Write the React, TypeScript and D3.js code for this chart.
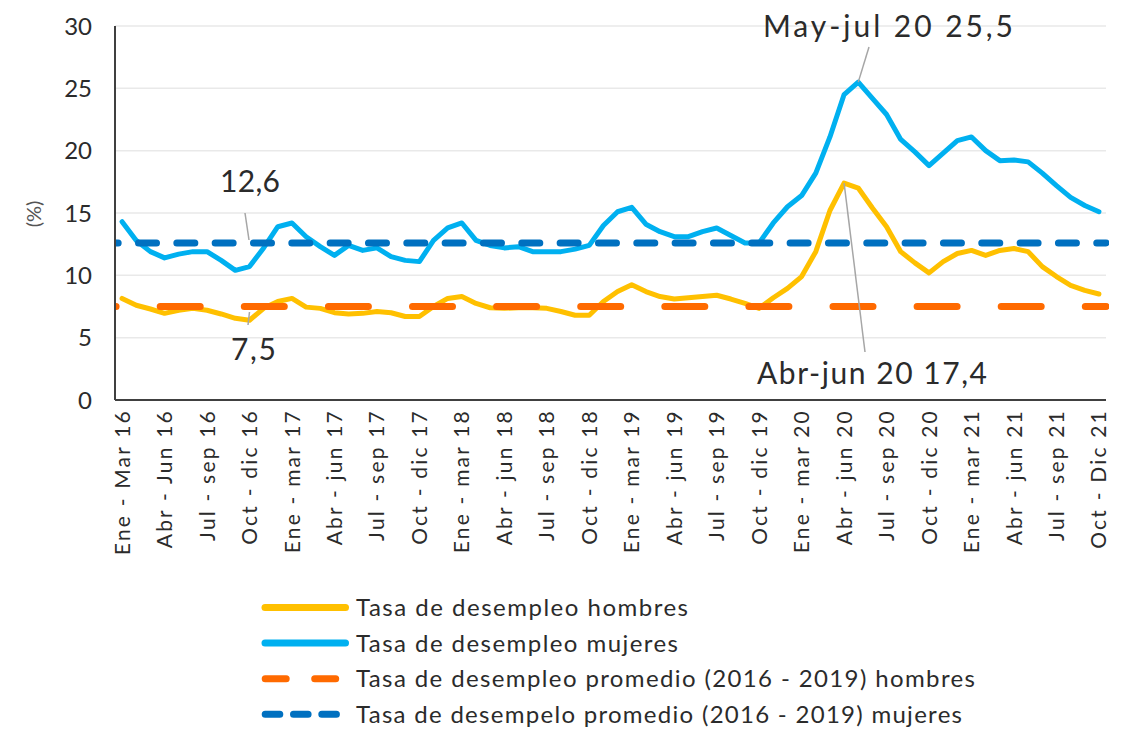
import React from "react";
import * as d3 from "d3";

const MONTHS = ["Ene", "Feb", "Mar", "Abr", "May", "Jun", "Jul", "Ago", "Sep", "Oct", "Nov", "Dic"];
// 70 rolling quarters: Ene-Mar 16 ... Oct-Dic 21
const categories: string[] = d3.range(70).map((i) => {
  const s = i % 12;
  const e = (i + 2) % 12;
  const yr = 16 + Math.floor((i + 2) / 12);
  return `${MONTHS[s]}-${MONTHS[e]} ${yr}`;
});

const tickLabels = [
  "Ene - Mar 16", "Abr - Jun 16", "Jul - sep 16", "Oct - dic 16",
  "Ene - mar 17", "Abr - jun 17", "Jul - sep 17", "Oct - dic 17",
  "Ene - mar 18", "Abr - jun 18", "Jul - sep 18", "Oct - dic 18",
  "Ene - mar 19", "Abr - jun 19", "Jul - sep 19", "Oct - dic 19",
  "Ene - mar 20", "Abr - jun 20", "Jul - sep 20", "Oct - dic 20",
  "Ene - mar 21", "Abr - jun 21", "Jul - sep 21", "Oct - Dic 21",
];

const hombres = [
  8.15, 7.6, 7.3, 6.95, 7.2, 7.35, 7.2, 6.9, 6.55, 6.4,
  7.35, 7.9, 8.15, 7.45, 7.35, 7.0, 6.9, 6.95, 7.1, 7.0,
  6.7, 6.7, 7.5, 8.15, 8.3, 7.75, 7.4, 7.35, 7.4, 7.4,
  7.35, 7.1, 6.8, 6.8, 7.9, 8.7, 9.25, 8.7, 8.3, 8.1,
  8.2, 8.3, 8.4, 8.1, 7.75, 7.35, 8.2, 8.95, 9.9, 11.9,
  15.2, 17.4, 17.0, 15.4, 13.9, 11.9, 11.0, 10.2, 11.1, 11.75,
  12.0, 11.6, 12.0, 12.15, 11.9, 10.7, 9.9, 9.2, 8.8, 8.5,
];

const mujeres = [
  14.3, 12.8, 11.9, 11.4, 11.7, 11.9, 11.9, 11.2, 10.4, 10.7,
  12.2, 13.9, 14.2, 13.1, 12.3, 11.6, 12.4, 12.0, 12.2, 11.5,
  11.2, 11.1, 12.8, 13.8, 14.2, 12.8, 12.4, 12.2, 12.3, 11.9,
  11.9, 11.9, 12.1, 12.4, 14.0, 15.1, 15.45, 14.1, 13.5, 13.1,
  13.1, 13.5, 13.8, 13.2, 12.6, 12.6, 14.2, 15.5, 16.4, 18.2,
  21.1, 24.5, 25.5, 24.2, 22.9, 20.9, 19.9, 18.8, 19.8, 20.8,
  21.1, 20.0, 19.2, 19.25, 19.1, 18.2, 17.2, 16.25, 15.6, 15.1,
];

const promedioHombres = 7.5;
const promedioMujeres = 12.6;
const yTicks = [0, 5, 10, 15, 20, 25, 30];

const legendItems = [
  { label: "Tasa de desempleo hombres", color: "#FFC000", kind: "solid", len: 332 },
  { label: "Tasa de desempleo mujeres", color: "#00B0F0", kind: "solid", len: 322 },
  { label: "Tasa de desempleo promedio  (2016 - 2019) hombres", color: "#FF6A00", kind: "long", len: 619 },
  { label: "Tasa de desempelo promedio (2016 - 2019) mujeres", color: "#0070C0", kind: "short", len: 606 },
];

const FONT = "Lato, 'Open Sans', sans-serif";
const TEXT = "#2b2b2b";

export default function App() {
  const left = 115, right = 1106, top = 26, bottom = 400;
  const x = d3.scaleBand<string>().domain(categories).range([left, right]).padding(0);
  const cx = (i: number) => (x(categories[i]) as number) + x.bandwidth() / 2;
  const y = d3.scaleLinear().domain([0, 30]).range([bottom, top]);

  const line = d3
    .line<number>()
    .x((_, i) => cx(i))
    .y((d) => y(d));

  const annoStyle = { fontFamily: FONT, fontSize: 30, fill: TEXT } as const;

  return (
    <svg
      width={1130}
      height={731}
      style={{ position: "absolute", left: 0, top: 0, background: "#fff" }}
    >
      <defs>
        <clipPath id="plotClip">
          <rect x={left} y={0} width={right - left + 3} height={bottom} />
        </clipPath>
      </defs>
      {/* gridlines */}
      {yTicks.filter((t) => t > 0).map((t) => (
        <line key={t} x1={left} x2={right} y1={y(t)} y2={y(t)} stroke="#e9e9e9" strokeWidth={1.5} />
      ))}
      {/* y tick labels */}
      {yTicks.map((t) => (
        <text key={t} x={92} y={y(t)} dy="0.36em" textAnchor="end" style={{ fontFamily: FONT, fontSize: 24, fill: TEXT }}>
          {t}
        </text>
      ))}
      <text
        transform={`translate(34, 214) rotate(-90)`}
        textAnchor="middle"
        dy="0.35em"
        style={{ fontFamily: FONT, fontSize: 20, fill: "#555" }}
      >
        (%)
      </text>

      {/* series */}
      <path d={line(hombres) || ""} fill="none" stroke="#FFC000" strokeWidth={5} strokeLinejoin="round" strokeLinecap="round" />
      <path d={line(mujeres) || ""} fill="none" stroke="#00B0F0" strokeWidth={5} strokeLinejoin="round" strokeLinecap="round" />
      <g clipPath="url(#plotClip)">
        <line
          x1={left}
          x2={right}
          y1={y(promedioHombres)}
          y2={y(promedioHombres)}
          stroke="#FF6A00"
          strokeWidth={7}
          strokeLinecap="round"
          strokeDasharray="40 44.1"
          strokeDashoffset={38.9}
        />
        <line
          x1={left}
          x2={right}
          y1={y(promedioMujeres)}
          y2={y(promedioMujeres)}
          stroke="#0070C0"
          strokeWidth={7}
          strokeLinecap="round"
          strokeDasharray="18 20.33"
          strokeDashoffset={14.83}
        />
      </g>

      {/* axes */}
      <line x1={left} x2={left} y1={top} y2={bottom} stroke="#404040" strokeWidth={2} />
      <line x1={left} x2={right} y1={bottom} y2={bottom} stroke="#404040" strokeWidth={2} />

      {/* x tick labels */}
      {tickLabels.map((lab, k) => (
        <text
          key={lab}
          transform={`translate(${cx(k * 3)}, 409) rotate(-90)`}
          textAnchor="end"
          dy="0.36em"
          style={{ fontFamily: FONT, fontSize: 21, fill: TEXT, letterSpacing: 2.2 }}
        >
          {lab}
        </text>
      ))}

      {/* annotations */}
      <line x1={245} y1={213} x2={249} y2={240} stroke="#a6a6a6" strokeWidth={1.5} />
      <text x={220} y={192} textLength={60} lengthAdjust="spacing" style={annoStyle}>12,6</text>
      <line x1={249.5} y1={312} x2={248} y2={325} stroke="#a6a6a6" strokeWidth={1.5} />
      <text x={231} y={360} textLength={45} lengthAdjust="spacing" style={annoStyle}>7,5</text>
      <line x1={869} y1={47} x2={cx(52)} y2={y(mujeres[52])} stroke="#a6a6a6" strokeWidth={1.5} />
      <text x={763} y={37} textLength={250} lengthAdjust="spacing" style={annoStyle}>May-jul 20  25,5</text>
      <line x1={cx(51)} y1={y(hombres[51])} x2={865} y2={352} stroke="#a6a6a6" strokeWidth={1.5} />
      <text x={757} y={384} textLength={230} lengthAdjust="spacing" style={annoStyle}>Abr-jun 20 17,4</text>

      {/* legend */}
      {legendItems.map((it, k) => {
        const ly = 607.5 + k * 35.6;
        return (
          <g key={it.label}>
            {it.kind === "solid" && (
              <line x1={265} x2={345.5} y1={ly} y2={ly} stroke={it.color} strokeWidth={7} strokeLinecap="round" />
            )}
            {it.kind === "long" && (
              <line x1={265.2} x2={336} y1={ly} y2={ly} stroke={it.color} strokeWidth={7} strokeLinecap="round" strokeDasharray="21 28.5" />
            )}
            {it.kind === "short" && (
              <line x1={265.2} x2={336.5} y1={ly} y2={ly} stroke={it.color} strokeWidth={7} strokeLinecap="round" strokeDasharray="14.6 13.7" />
            )}
            <text
              x={356}
              y={ly}
              dy="0.36em"
              textLength={it.len}
              lengthAdjust="spacing"
              style={{ fontFamily: FONT, fontSize: 24, fill: TEXT }}
            >
              {it.label}
            </text>
          </g>
        );
      })}
    </svg>
  );
}
